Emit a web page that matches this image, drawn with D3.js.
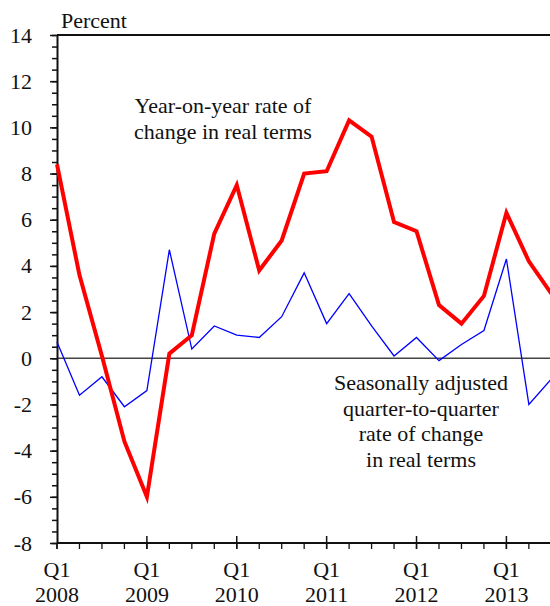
<!DOCTYPE html>
<html>
<head>
<meta charset="utf-8">
<script src="https://cdn.jsdelivr.net/npm/d3@7"></script>
<style>
  html, body { margin: 0; padding: 0; background: #fff; overflow: hidden; }
  svg { display: block; }
</style>
</head>
<body>
<div id="chart"></div>
<script>
// quarters Q1 2008 .. Q3 2013
const years = [2008, 2009, 2010, 2011, 2012, 2013];
const quarterCount = 23;
const yTicks = [-8, -6, -4, -2, 0, 2, 4, 6, 8, 10, 12, 14];

// year-on-year rate of change in real terms
const yoy = [8.4, 3.6, 0.1, -3.6, -6.0, 0.2, 1.0, 5.4, 7.5, 3.8, 5.1, 8.0,
             8.1, 10.3, 9.6, 5.9, 5.5, 2.3, 1.5, 2.7, 6.3, 4.2, 2.8];
// seasonally adjusted quarter-to-quarter rate of change
const qoq = [0.7, -1.6, -0.8, -2.1, -1.4, 4.7, 0.4, 1.4, 1.0, 0.9, 1.8, 3.7,
             1.5, 2.8, 1.4, 0.1, 0.9, -0.1, 0.6, 1.2, 4.3, -2.0, -0.9];

const yoyLabel = ['Year-on-year rate of', 'change in real terms'];
const qoqLabel = ['Seasonally adjusted', 'quarter-to-quarter', 'rate of change', 'in real terms'];

const FONT = '"Liberation Serif"';
const FS = '22px';
const width = 550;
const height = 606;
const margin = { top: 35, left: 57, bottom: 63 };
const plotBottom = height - margin.bottom;
const qStep = 22.47;

const svg = d3.select('#chart')
  .append('svg')
  .attr('width', width)
  .attr('height', height);

const x = d3.scaleLinear()
  .domain([0, quarterCount - 1])
  .range([margin.left, margin.left + (quarterCount - 1) * qStep]);

const y = d3.scaleLinear()
  .domain([-8, 14])
  .range([plotBottom, margin.top]);

// zero line
svg.append('line')
  .attr('x1', x(0)).attr('x2', width)
  .attr('y1', y(0)).attr('y2', y(0))
  .attr('stroke', '#444')
  .attr('stroke-width', 1.3);

// top frame line
svg.append('line')
  .attr('x1', x(0)).attr('x2', width)
  .attr('y1', y(14)).attr('y2', y(14))
  .attr('stroke', '#111')
  .attr('stroke-width', 2);

// y axis: minor ticks every 0.5
const yAxis = svg.append('g')
  .attr('transform', `translate(${margin.left},0)`);

yAxis.append('g')
  .call(d3.axisLeft(y).tickValues(d3.range(-8, 14.01, 0.5)).tickSize(5).tickFormat(''))
  .call(g => g.select('.domain').remove());

yAxis.append('g')
  .call(d3.axisLeft(y).tickValues(yTicks).tickSize(7).tickPadding(18).tickSizeOuter(0))
  .call(g => g.selectAll('text')
    .style('font-family', FONT)
    .style('font-size', FS)
    .attr('fill', '#111')
    .text(d => d < 0 ? '-' + Math.abs(d) : d));

yAxis.selectAll('line, path').attr('stroke', '#111').attr('stroke-width', 1.5);
yAxis.select('.domain').attr('stroke-width', 2);

// x axis: quarterly minor ticks, yearly major ticks through the axis
const xAxis = svg.append('g')
  .attr('transform', `translate(0,${plotBottom})`);

xAxis.append('line')
  .attr('x1', x(0)).attr('x2', width)
  .attr('stroke', '#111')
  .attr('stroke-width', 2);

xAxis.selectAll('.minor')
  .data(d3.range(quarterCount))
  .join('line')
  .attr('x1', d => x(d)).attr('x2', d => x(d))
  .attr('y1', 0).attr('y2', 6)
  .attr('stroke', '#111')
  .attr('stroke-width', 1.3);

xAxis.selectAll('.major')
  .data(years.map((yr, i) => i * 4))
  .join('line')
  .attr('x1', d => x(d)).attr('x2', d => x(d))
  .attr('y1', d => d === 0 ? 0 : -7).attr('y2', 6)
  .attr('stroke', '#111')
  .attr('stroke-width', 1.5);

const yearLabels = xAxis.selectAll('.yl')
  .data(years)
  .join('text')
  .attr('text-anchor', 'middle')
  .style('font-family', FONT)
  .style('font-size', FS)
  .attr('fill', '#111');

yearLabels.append('tspan')
  .attr('x', (d, i) => x(i * 4))
  .attr('y', 34)
  .text('Q1');
yearLabels.append('tspan')
  .attr('x', (d, i) => x(i * 4))
  .attr('y', 59)
  .text(d => d);

// series
const line = d3.line()
  .x((d, i) => x(i))
  .y(d => y(d));

svg.append('path')
  .datum(qoq)
  .attr('fill', 'none')
  .attr('stroke', '#0000ff')
  .attr('stroke-width', 1.3)
  .attr('stroke-linejoin', 'miter')
  .attr('d', line);

svg.append('path')
  .datum(yoy)
  .attr('fill', 'none')
  .attr('stroke', '#ff0000')
  .attr('stroke-width', 4)
  .attr('stroke-linejoin', 'miter')
  .attr('d', line);

// unit label
svg.append('text')
  .attr('x', 61)
  .attr('y', 28)
  .style('font-family', FONT)
  .style('font-size', FS)
  .attr('fill', '#111')
  .text('Percent');

// annotations
svg.append('text')
  .attr('text-anchor', 'middle')
  .style('font-family', FONT)
  .style('font-size', FS)
  .attr('fill', '#111')
  .selectAll('tspan')
  .data(yoyLabel)
  .join('tspan')
  .attr('x', 223)
  .attr('y', (d, i) => 113 + i * 26)
  .text(d => d);

svg.append('text')
  .attr('text-anchor', 'middle')
  .style('font-family', FONT)
  .style('font-size', FS)
  .attr('fill', '#111')
  .selectAll('tspan')
  .data(qoqLabel)
  .join('tspan')
  .attr('x', 421)
  .attr('y', (d, i) => 390 + i * 25.6)
  .text(d => d);
</script>
</body>
</html>
